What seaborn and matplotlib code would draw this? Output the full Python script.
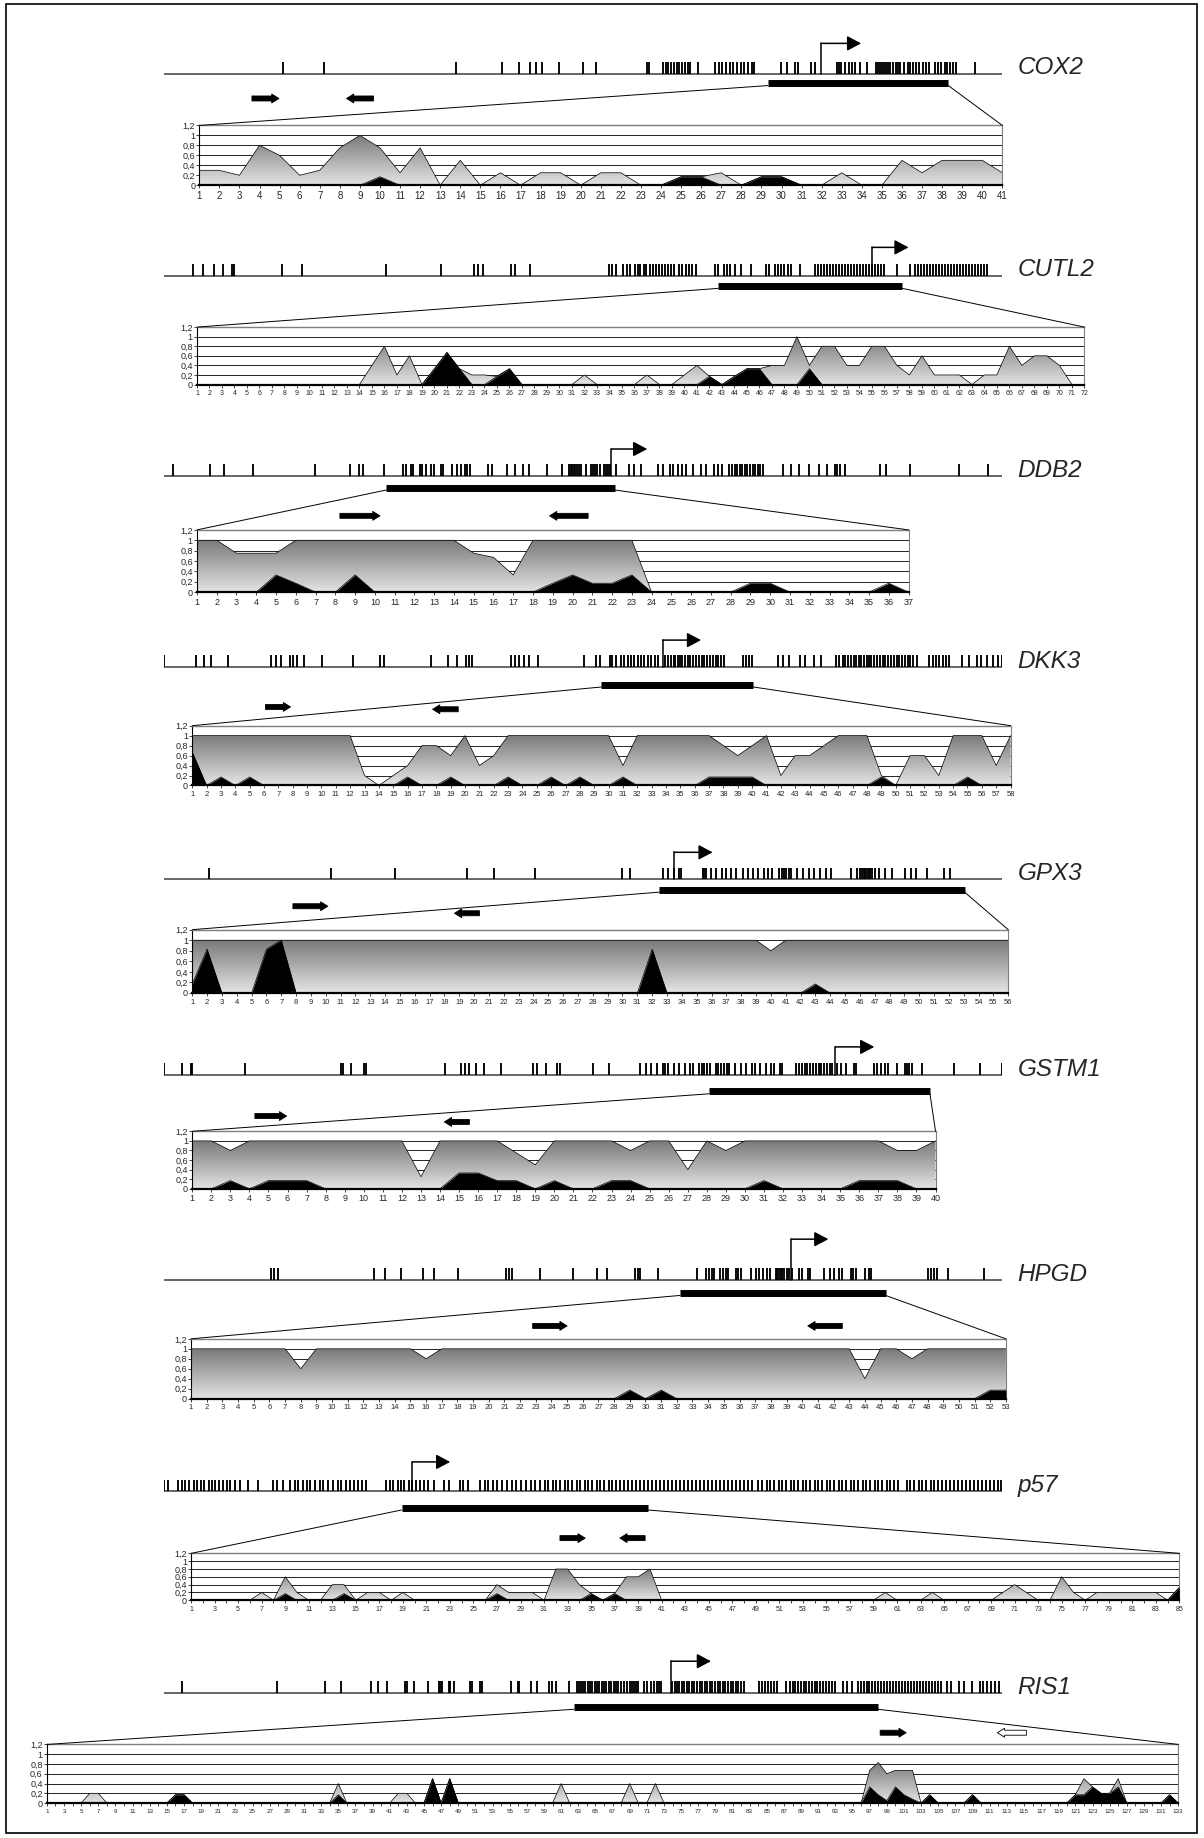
"""Mapas de islas CpG y perfiles de metilación por gen (COX2 ... RIS1)."""

import matplotlib

matplotlib.use("Agg")

import matplotlib.pyplot as plt
import numpy as np
import seaborn as sns
from matplotlib.colors import LinearSegmentedColormap
from matplotlib.patches import ConnectionPatch, Rectangle

sns.set_theme(style="white")
ESTRECHA = ["Liberation Sans Narrow", "Liberation Sans", "DejaVu Sans"]
plt.rcParams["font.family"] = ESTRECHA

W, H = 1204, 1838
S = 1204 / 1027  # medidas tomadas sobre la imagen reducida
GRIS = LinearSegmentedColormap.from_list("gris", ["#e4e4e4", "#7a7a7a"])

# ------------------------------------------------------------------ datos
COX2_GRIS = [0.3, 0.3, 0.2, 0.8, 0.6, 0.2, 0.3, 0.75, 1.0, 0.75,
             0.25, 0.75, 0, 0.5, 0, 0.25, 0, 0.25, 0.25, 0,
             0.25, 0.25, 0, 0, 0.17, 0.17, 0.25, 0, 0.17, 0.17,
             0, 0, 0.25, 0, 0, 0.5, 0.25, 0.5, 0.5, 0.5, 0.25]
COX2_NEGRO = [0, 0, 0, 0, 0, 0, 0, 0, 0, 0.17,
              0, 0, 0, 0, 0, 0, 0, 0, 0, 0,
              0, 0, 0, 0, 0.17, 0.17, 0, 0, 0.17, 0.17,
              0, 0, 0, 0, 0, 0, 0, 0, 0, 0, 0]
COX2_CPG = [218, 285, 500, 575, 603, 620, 630, 640, 668, 707, 728, 812, 815, 838,
            842, 846, 850, 855, 860, 864, 868, 873, 878, 882, 895, 922, 928, 934,
            940, 946, 952, 958, 964, 970, 976, 982, 986, 1030, 1040, 1053, 1058,
            1078, 1085, 1120, 1124, 1128, 1134, 1140, 1145, 1150, 1158, 1170,
            1185, 1188, 1191, 1194, 1197, 1200, 1203, 1207, 1212, 1216, 1220,
            1224, 1230, 1236, 1240, 1244, 1250, 1255, 1260, 1265, 1270, 1280,
            1285, 1290, 1296, 1300, 1305, 1310, 1315, 1345]
COX2_LINEA = (25, 1390)
COX2_BARRA = (1008, 1302)
COX2_TSS = (1095, 1160)
COX2_PRIMERS = [(168, 212), (366, 322)]

CUTL2_GRIS = [0, 0, 0, 0, 0, 0, 0, 0, 0, 0,
              0, 0, 0, 0, 0.4, 0.8, 0.2, 0.6, 0, 0.33,
              0.67, 0.33, 0.2, 0.2, 0.17, 0.33, 0, 0, 0, 0,
              0, 0.2, 0, 0, 0, 0, 0.2, 0, 0, 0.2,
              0.4, 0.17, 0, 0.17, 0.33, 0.33, 0.4, 0.4, 1.0, 0.4,
              0.8, 0.8, 0.4, 0.4, 0.8, 0.8, 0.4, 0.2, 0.6, 0.2,
              0.2, 0.2, 0, 0.2, 0.2, 0.8, 0.4, 0.6, 0.6, 0.4,
              0, 0]
CUTL2_NEGRO = [0, 0, 0, 0, 0, 0, 0, 0, 0, 0,
               0, 0, 0, 0, 0, 0, 0, 0, 0, 0.33,
               0.67, 0.33, 0, 0, 0.17, 0.33, 0, 0, 0, 0,
               0, 0, 0, 0, 0, 0, 0, 0, 0, 0,
               0, 0.17, 0, 0.17, 0.33, 0.33, 0, 0, 0, 0.33,
               0, 0, 0, 0, 0, 0, 0, 0, 0, 0,
               0, 0, 0, 0, 0, 0, 0, 0, 0, 0,
               0, 0]
CUTL2_CPG = [73, 90, 107, 122, 137, 140, 220, 253, 392, 483, 537, 543, 552, 598,
             605, 630, 760, 765, 772, 783, 790, 795, 803, 808, 812, 818, 822, 828,
             833, 838, 843, 848, 853, 858, 863, 868, 875, 880, 887, 893, 897, 903,
             935, 940, 950, 955, 960, 968, 978, 995, 1020, 1025, 1035, 1040, 1045,
             1050, 1055, 1060, 1075, 1100, 1105, 1110, 1115, 1120, 1125, 1130,
             1135, 1140, 1145, 1150, 1155, 1160, 1165, 1170, 1175, 1180, 1185,
             1190, 1195, 1200, 1205, 1210, 1215, 1236, 1258, 1265, 1270, 1275,
             1280, 1285, 1290, 1295, 1300, 1305, 1310, 1315, 1320, 1325, 1330,
             1335, 1340, 1345, 1350, 1355, 1360, 1365, 1370, 1375, 1380, 1385]
CUTL2_LINEA = (25, 1410)
CUTL2_BARRA = (940, 1245)
CUTL2_TSS = (1195, 1255)
CUTL2_PRIMERS = []

DDB2_GRIS = [1, 1, 0.75, 0.75, 0.75, 1, 1, 1, 1, 1,
             1, 1, 1, 1, 0.75, 0.67, 0.33, 1, 1, 1,
             1, 1, 1, 0, 0, 0, 0, 0, 0, 0,
             0, 0, 0, 0, 0, 0, 0]
DDB2_NEGRO = [0, 0, 0, 0, 0.33, 0.17, 0, 0, 0.33, 0,
              0, 0, 0, 0, 0, 0, 0, 0, 0.17, 0.33,
              0.17, 0.17, 0.33, 0, 0, 0, 0, 0, 0.17, 0.17,
              0, 0, 0, 0, 0, 0.17, 0]
DDB2_CPG = [52, 125, 152, 207, 328, 397, 415, 422, 463, 500, 505, 515, 520, 532,
            537, 545, 555, 560, 573, 578, 595, 605, 612, 620, 625, 630, 665, 672,
            702, 718, 734, 745, 780, 810, 823, 826, 829, 832, 835, 838, 842, 846,
            855, 865, 869, 874, 878, 884, 890, 895, 899, 903, 914, 940, 950, 962,
            995, 1005, 1020, 1025, 1035, 1042, 1050, 1065, 1080, 1090, 1104, 1112,
            1120, 1135, 1140, 1145, 1150, 1155, 1160, 1165, 1170, 1175, 1180,
            1185, 1190, 1195, 1200, 1240, 1255, 1270, 1290, 1310, 1325, 1340,
            1345, 1350, 1360, 1428, 1440, 1487, 1581, 1638]
DDB2_LINEA = (35, 1666)
DDB2_BARRA = (467, 912)
DDB2_TSS = (905, 975)
DDB2_PRIMERS = [(377, 455), (860, 785)]

DKK3_GRIS = [1, 1, 1, 1, 1, 1, 1, 1, 1, 1,
             1, 1, 0.2, 0, 0.2, 0.4, 0.8, 0.8, 0.6, 1,
             0.4, 0.6, 1, 1, 1, 1, 1, 1, 1, 1,
             0.4, 1, 1, 1, 1, 1, 1, 0.8, 0.6, 0.8,
             1, 0.2, 0.6, 0.6, 0.8, 1, 1, 1, 0.2, 0,
             0.6, 0.6, 0.2, 1, 1, 1, 0.4, 1]
DKK3_NEGRO = [0.67, 0, 0.17, 0, 0.17, 0, 0, 0, 0, 0,
              0, 0, 0, 0, 0, 0.17, 0, 0, 0.17, 0,
              0, 0, 0.17, 0, 0, 0.17, 0, 0.17, 0, 0,
              0.17, 0, 0, 0, 0, 0, 0.17, 0.17, 0.17, 0.17,
              0, 0, 0, 0, 0, 0, 0, 0, 0.17, 0,
              0, 0, 0, 0, 0.17, 0, 0, 0]
DKK3_CPG = [30, 88, 102, 115, 145, 222, 230, 240, 256, 262, 268, 281, 313, 369,
            418, 424, 510, 540, 556, 572, 578, 583, 652, 660, 668, 677, 686, 701,
            783, 805, 812, 830, 835, 842, 850, 856, 862, 868, 873, 880, 886, 892,
            898, 905, 912, 916, 930, 935, 940, 945, 948, 952, 956, 960, 965, 970,
            975, 980, 985, 990, 995, 1000, 1005, 1010, 1015, 1020, 1025, 1030,
            1035, 1070, 1075, 1080, 1085, 1133, 1142, 1152, 1172, 1180, 1197,
            1210, 1237, 1242, 1248, 1253, 1258, 1263, 1268, 1272, 1277, 1282,
            1287, 1292, 1296, 1300, 1305, 1310, 1315, 1320, 1325, 1330, 1335,
            1340, 1345, 1350, 1355, 1360, 1365, 1370, 1375, 1382, 1404, 1410,
            1416, 1422, 1428, 1434, 1440, 1462, 1476, 1490, 1497, 1508, 1518,
            1528, 1535]
DKK3_LINEA = (30, 1535)
DKK3_BARRA = (815, 1088)
DKK3_TSS = (925, 994)
DKK3_PRIMERS = [(212, 257), (558, 512)]

GPX3_GRIS = [1, 1, 1, 1, 1, 1, 1, 1, 1, 1,
             1, 1, 1, 1, 1, 1, 1, 1, 1, 1,
             1, 1, 1, 1, 1, 1, 1, 1, 1, 1,
             1, 1, 1, 1, 1, 1, 1, 1, 1, 0.8,
             1, 1, 1, 1, 1, 1, 1, 1, 1, 1,
             1, 1, 1, 1, 1, 1]
GPX3_NEGRO = [0.17, 0.83, 0, 0, 0, 0.83, 1.0, 0, 0, 0,
              0, 0, 0, 0, 0, 0, 0, 0, 0, 0,
              0, 0, 0, 0, 0, 0, 0, 0, 0, 0,
              0, 0.83, 0, 0, 0, 0, 0, 0, 0, 0,
              0, 0, 0.17, 0, 0, 0, 0, 0, 0, 0,
              0, 0, 0, 0, 0, 0]
GPX3_CPG = [110, 330, 445, 575, 625, 698, 855, 870, 928, 938, 948, 958, 962,
            1000, 1003, 1006, 1015, 1025, 1035, 1043, 1052, 1060, 1072, 1082,
            1090, 1100, 1110, 1118, 1125, 1137, 1143, 1146, 1150, 1155, 1160,
            1170, 1180, 1192, 1200, 1212, 1222, 1232, 1268, 1278, 1283, 1287,
            1290, 1293, 1296, 1299, 1302, 1305, 1310, 1318, 1328, 1342, 1365,
            1375, 1385, 1405, 1435, 1445]
GPX3_LINEA = (30, 1540)
GPX3_BARRA = (922, 1472)
GPX3_TSS = (948, 1018)
GPX3_PRIMERS = [(262, 325), (598, 553)]

GSTM1_GRIS = [1, 1, 0.8, 1, 1, 1, 1, 1, 1, 1,
              1, 1, 0.25, 1, 1, 1, 1, 0.75, 0.5, 1,
              1, 1, 1, 0.8, 1, 1, 0.4, 1, 0.8, 1,
              1, 1, 1, 1, 1, 1, 1, 0.8, 0.8, 1]
GSTM1_NEGRO = [0, 0, 0.17, 0, 0.17, 0.17, 0.17, 0, 0, 0,
               0, 0, 0, 0, 0.33, 0.33, 0.17, 0.17, 0, 0.17,
               0, 0, 0.17, 0.17, 0, 0, 0, 0, 0, 0,
               0.17, 0, 0, 0, 0, 0.17, 0.17, 0.17, 0, 0]
GSTM1_CPG = [30, 62, 78, 80, 175, 348, 352, 365, 388, 392, 535, 563, 570, 578,
             590, 605, 635, 693, 700, 715, 735, 740, 800, 828, 885, 895, 905, 915,
             925, 930, 935, 945, 955, 965, 975, 980, 990, 995, 1000, 1005, 1010,
             1020, 1025, 1030, 1035, 1040, 1045, 1055, 1065, 1075, 1085, 1090,
             1100, 1110, 1120, 1125, 1135, 1140, 1165, 1170, 1175, 1180, 1185,
             1190, 1195, 1200, 1205, 1210, 1215, 1220, 1225, 1230, 1238, 1245,
             1255, 1268, 1273, 1305, 1310, 1318, 1325, 1330, 1345, 1360, 1363,
             1367, 1372, 1390, 1448, 1495, 1535]
GSTM1_LINEA = (30, 1535)
GSTM1_BARRA = (1008, 1405)
GSTM1_TSS = (1235, 1305)
GSTM1_PRIMERS = [(193, 250), (578, 533)]

HPGD_GRIS = [1, 1, 1, 1, 1, 1, 1, 0.6, 1, 1,
             1, 1, 1, 1, 1, 0.8, 1, 1, 1, 1,
             1, 1, 1, 1, 1, 1, 1, 1, 1, 1,
             1, 1, 1, 1, 1, 1, 1, 1, 1, 1,
             1, 1, 1, 0.4, 1, 1, 0.8, 1, 1, 1,
             1, 1, 1]
HPGD_NEGRO = [0, 0, 0, 0, 0, 0, 0, 0, 0, 0,
              0, 0, 0, 0, 0, 0, 0, 0, 0, 0,
              0, 0, 0, 0, 0, 0, 0, 0, 0.17, 0,
              0.17, 0, 0, 0, 0, 0, 0, 0, 0, 0,
              0, 0, 0, 0, 0, 0, 0, 0, 0, 0,
              0, 0.17, 0.17]
HPGD_CPG = [222, 228, 235, 408, 428, 457, 495, 515, 558, 645, 650, 655, 706, 766,
            808, 826, 878, 882, 886, 918, 988, 1005, 1010, 1015, 1020, 1030, 1035,
            1040, 1045, 1058, 1062, 1068, 1085, 1095, 1100, 1108, 1115, 1120,
            1130, 1133, 1136, 1139, 1142, 1145, 1150, 1155, 1160, 1172, 1178,
            1188, 1192, 1218, 1228, 1235, 1245, 1250, 1265, 1270, 1275, 1290,
            1298, 1302, 1405, 1410, 1415, 1420, 1440, 1505]
HPGD_LINEA = (30, 1538)
HPGD_BARRA = (958, 1328)
HPGD_TSS = (1158, 1225)
HPGD_PRIMERS = [(693, 755), (1250, 1188)]

P57_GRIS = [0, 0, 0, 0, 0, 0, 0.2, 0, 0.6, 0.2,
            0, 0, 0.4, 0.4, 0, 0.2, 0.2, 0, 0.2, 0,
            0, 0, 0, 0, 0, 0, 0.4, 0.2, 0.2, 0.2,
            0, 0.8, 0.8, 0.4, 0.17, 0, 0.17, 0.6, 0.6, 0.8,
            0, 0, 0, 0, 0, 0, 0, 0, 0, 0,
            0, 0, 0, 0, 0, 0, 0, 0, 0, 0.2,
            0, 0, 0, 0.2, 0, 0, 0, 0, 0, 0.2,
            0.4, 0.2, 0, 0, 0.6, 0.2, 0, 0.2, 0.2, 0.2,
            0.2, 0.2, 0.2, 0, 0.33]
P57_NEGRO = [0, 0, 0, 0, 0, 0, 0, 0, 0.17, 0,
             0, 0, 0, 0.17, 0, 0, 0, 0, 0, 0,
             0, 0, 0, 0, 0, 0, 0.17, 0, 0, 0,
             0, 0, 0, 0, 0.17, 0, 0.17, 0, 0, 0,
             0, 0, 0, 0, 0, 0, 0, 0, 0, 0,
             0, 0, 0, 0, 0, 0, 0, 0, 0, 0,
             0, 0, 0, 0, 0, 0, 0, 0, 0, 0,
             0, 0, 0, 0, 0, 0, 0, 0, 0, 0,
             0, 0, 0, 0, 0.33]
P57_CPG = [25, 31, 46, 52, 57, 63, 70, 74, 80, 85, 92, 97, 102, 108, 113, 119,
           124, 131, 139, 151, 166, 188, 195, 203, 214, 221, 226, 233, 240, 245,
           252, 259, 264, 272, 279, 286, 291, 298, 305, 310, 316, 323, 328, 358,
           364, 369, 376, 381, 386, 393, 398, 404, 410, 416, 422, 430, 446, 453,
           470, 475, 482, 500, 507, 512, 520, 526, 533, 541, 548, 554, 562, 569,
           577, 583, 590, 597, 602, 609, 614, 620, 627, 632, 638, 645, 650, 657,
           662, 668, 675, 680, 686, 693, 698, 704, 711, 716, 722, 729, 734, 740,
           747, 752, 758, 765, 770, 776, 783, 788, 794, 801, 806, 812, 819, 824,
           830, 837, 842, 848, 855, 860, 866, 873, 878, 884, 891, 896, 902, 909,
           918, 924, 931, 936, 942, 949, 954, 960, 967, 972, 978, 985, 990, 996,
           1003, 1008, 1014, 1021, 1026, 1032, 1039, 1044, 1050, 1057, 1062,
           1068, 1075, 1080, 1086, 1093, 1098, 1104, 1111, 1116, 1122, 1128,
           1141, 1146, 1152, 1159, 1164, 1170, 1177, 1182, 1188, 1195, 1200,
           1206, 1213, 1218, 1224, 1231, 1236, 1242, 1249, 1254, 1260, 1267,
           1272, 1278, 1283]
P57_LINEA = (25, 1285)
P57_BARRA = (382, 752)
P57_TSS = (398, 455)
P57_PRIMERS = [(620, 658), (748, 710)]

RIS1_GRIS = [0, 0, 0, 0, 0, 0.2, 0.2, 0, 0, 0,
             0, 0, 0, 0, 0, 0.17, 0.17, 0, 0, 0,
             0, 0, 0, 0, 0, 0, 0, 0, 0, 0,
             0, 0, 0, 0, 0.4, 0, 0, 0, 0, 0,
             0, 0.2, 0.2, 0, 0, 0.5, 0, 0.5, 0, 0,
             0, 0, 0, 0, 0, 0, 0, 0, 0, 0,
             0.4, 0, 0, 0, 0, 0, 0, 0, 0.4, 0,
             0, 0.4, 0, 0, 0, 0, 0, 0, 0, 0,
             0, 0, 0, 0, 0, 0, 0, 0, 0, 0,
             0, 0, 0, 0, 0, 0, 0.67, 0.83, 0.6, 0.67,
             0.67, 0.67, 0, 0.17, 0, 0, 0, 0, 0.17, 0,
             0, 0, 0, 0, 0, 0, 0, 0, 0, 0,
             0.17, 0.5, 0.33, 0.2, 0.2, 0.5, 0, 0, 0, 0,
             0, 0.17, 0]
RIS1_NEGRO = [0, 0, 0, 0, 0, 0, 0, 0, 0, 0,
              0, 0, 0, 0, 0, 0.17, 0.17, 0, 0, 0,
              0, 0, 0, 0, 0, 0, 0, 0, 0, 0,
              0, 0, 0, 0, 0.17, 0, 0, 0, 0, 0,
              0, 0, 0, 0, 0, 0.5, 0, 0.5, 0, 0,
              0, 0, 0, 0, 0, 0, 0, 0, 0, 0,
              0, 0, 0, 0, 0, 0, 0, 0, 0, 0,
              0, 0, 0, 0, 0, 0, 0, 0, 0, 0,
              0, 0, 0, 0, 0, 0, 0, 0, 0, 0,
              0, 0, 0, 0, 0, 0, 0.33, 0.17, 0.05, 0.33,
              0.17, 0.08, 0, 0.17, 0, 0, 0, 0, 0.17, 0,
              0, 0, 0, 0, 0, 0, 0, 0, 0, 0,
              0.17, 0.17, 0.33, 0.2, 0.2, 0.33, 0, 0, 0, 0,
              0, 0.17, 0]
RIS1_CPG = [183, 278, 326, 342, 372, 379, 388, 406, 408, 415, 428, 439, 440,
            442, 449, 450, 454, 470, 472, 480, 482, 511, 518, 519, 531, 537, 549,
            552, 556, 569, 577, 579, 581, 583, 585, 588, 590, 592, 595, 597, 599,
            602, 604, 606, 609, 611, 614, 616, 618, 621, 624, 627, 630, 632, 634,
            636, 638, 644, 647, 651, 654, 657, 659, 661, 672, 675, 677, 679, 682,
            684, 687, 689, 692, 694, 697, 700, 702, 705, 707, 710, 712, 715, 718,
            720, 723, 725, 728, 731, 733, 736, 738, 741, 744, 759, 762, 765, 768,
            771, 774, 777, 786, 790, 793, 795, 798, 801, 804, 806, 809, 812, 815,
            817, 820, 823, 826, 829, 832, 835, 843, 847, 852, 858, 861, 864, 867,
            869, 872, 875, 878, 881, 884, 887, 890, 893, 896, 899, 902, 905, 908,
            911, 914, 917, 920, 923, 926, 929, 932, 935, 938, 941, 947, 951, 959,
            964, 972, 980, 983, 987, 991, 995, 999]
RIS1_LINEA = (165, 1002)
RIS1_BARRA = (574, 878)
RIS1_TSS = (671, 711)
RIS1_PRIMERS = [(880, 906), (1026, 997)]

GENES = [
    ("COX2", COX2_GRIS, COX2_NEGRO, COX2_CPG, COX2_LINEA, COX2_BARRA, COX2_TSS, COX2_PRIMERS),
    ("CUTL2", CUTL2_GRIS, CUTL2_NEGRO, CUTL2_CPG, CUTL2_LINEA, CUTL2_BARRA, CUTL2_TSS, CUTL2_PRIMERS),
    ("DDB2", DDB2_GRIS, DDB2_NEGRO, DDB2_CPG, DDB2_LINEA, DDB2_BARRA, DDB2_TSS, DDB2_PRIMERS),
    ("DKK3", DKK3_GRIS, DKK3_NEGRO, DKK3_CPG, DKK3_LINEA, DKK3_BARRA, DKK3_TSS, DKK3_PRIMERS),
    ("GPX3", GPX3_GRIS, GPX3_NEGRO, GPX3_CPG, GPX3_LINEA, GPX3_BARRA, GPX3_TSS, GPX3_PRIMERS),
    ("GSTM1", GSTM1_GRIS, GSTM1_NEGRO, GSTM1_CPG, GSTM1_LINEA, GSTM1_BARRA, GSTM1_TSS, GSTM1_PRIMERS),
    ("HPGD", HPGD_GRIS, HPGD_NEGRO, HPGD_CPG, HPGD_LINEA, HPGD_BARRA, HPGD_TSS, HPGD_PRIMERS),
    ("p57", P57_GRIS, P57_NEGRO, P57_CPG, P57_LINEA, P57_BARRA, P57_TSS, P57_PRIMERS),
    ("RIS1", RIS1_GRIS, RIS1_NEGRO, RIS1_CPG, RIS1_LINEA, RIS1_BARRA, RIS1_TSS, RIS1_PRIMERS),
]

# ------------------------------------------------ disposición (px reducidos)
# tss_y, linea_y, barra_y, primer_y, (izq, der, arriba, abajo), tamaño etiquetas, paso
DISPOSICION = {
    "COX2": (37, 63, 71, (84, 84), (170, 855, 107, 158), 7, 1),
    "CUTL2": (211, 235, 244, (), (168, 925, 279, 328), 5, 1),
    "DDB2": (383, 406, 416, (440, 440), (168, 775, 452, 505), 6.5, 1),
    "DKK3": (546, 569, 584, (603, 605), (164, 862, 619, 670), 5.5, 1),
    "GPX3": (727, 750, 759, (773, 779), (164, 860, 793, 847), 5.5, 1),
    "GSTM1": (893, 917, 931, (952, 957), (164, 798, 965, 1014), 6.5, 1),
    "HPGD": (1057, 1092, 1103, (1131, 1131), (163, 858, 1142, 1193), 5.5, 1),
    "p57": (1247, 1272, 1286, (1312, 1312), (163, 1006, 1325, 1365), 5, 2),
    "RIS1": (1417, 1444, 1456, (1478, 1478), (40, 1005, 1488, 1538), 4.5, 2),
}


def caja(izq, der, arr, aba):
    return [izq * S / W, 1 - aba * S / H, (der - izq) * S / W, (aba - arr) * S / H]


def mapa(fig, nombre, cpg, linea, barra, tss, primers):
    tss_y, lin_y, bar_y, prim_y, _, _, _ = DISPOSICION[nombre]
    arriba = tss_y - 10
    abajo = max((bar_y,) + tuple(prim_y)) + 8
    ax = fig.add_axes(caja(140, 855, arriba, abajo))
    ax.set_xlim(*linea)
    ax.set_ylim(abajo, arriba)
    ax.axis("off")
    ax.hlines(lin_y, linea[0], linea[1], color="#5a5a5a", lw=1.3)
    ax.vlines(cpg, lin_y - 10, lin_y, color="black", lw=1.35)
    ax.hlines(bar_y, barra[0], barra[1], color="black", lw=5, capstyle="butt")
    ax.plot([tss[0], tss[0]], [lin_y, tss_y], color="black", lw=1.1)
    ax.annotate("", xy=(tss[1], tss_y), xytext=(tss[0], tss_y), annotation_clip=False,
                arrowprops=dict(arrowstyle="-|>,head_length=0.85,head_width=0.45",
                                mutation_scale=10, lw=1.1, color="black",
                                shrinkA=0, shrinkB=0))
    for i, (ini, fin) in enumerate(primers):
        relleno = "white" if (nombre == "RIS1" and i == 1) else "black"
        ax.annotate("", xy=(fin, prim_y[i]), xytext=(ini, prim_y[i]), annotation_clip=False,
                    arrowprops=dict(arrowstyle="simple,head_length=0.65,head_width=0.8,tail_width=0.45",
                                    mutation_scale=8, fc=relleno, ec="black", lw=0.6,
                                    shrinkA=0, shrinkB=0))
    fig.text(868 * S / W, 1 - (lin_y - 5) * S / H, nombre, fontsize=17.5, style="italic",
             family=["Liberation Sans", "DejaVu Sans"], ha="left", va="center")
    return ax


def grafico(fig, nombre, gris, negro):
    _, _, _, _, (izq, der, arr, aba), fs, paso = DISPOSICION[nombre]
    ax = fig.add_axes(caja(izq, der, arr, aba))
    gris = np.asarray(gris, dtype=float)
    negro = np.asarray(negro, dtype=float)
    n = len(gris)
    x = np.arange(1, n + 1)
    for v in (0.2, 0.4, 0.6, 0.8, 1.0):
        ax.axhline(v, color="black", lw=0.6, zorder=0.5)
    forma = ax.fill_between(x, gris, 0, facecolor="none", edgecolor="none")
    degradado = np.linspace(0, 1, 256).reshape(-1, 1)
    im = ax.imshow(degradado, extent=(1, n, 0, gris.max()), origin="lower", aspect="auto",
                   cmap=GRIS, interpolation="bilinear", zorder=1)
    im.set_clip_path(forma.get_paths()[0], transform=ax.transData)
    sns.lineplot(x=x, y=gris, ax=ax, color="black", linewidth=0.5, estimator=None,
                 sort=False, legend=False, zorder=2)
    ax.fill_between(x, negro, 0, color="black", lw=0, zorder=3)
    sns.lineplot(x=x, y=negro, ax=ax, color="black", linewidth=0.5, estimator=None,
                 sort=False, legend=False, zorder=3)
    ax.set_xlim(1, n)
    ax.set_ylim(0, 1.2)
    ax.set_yticks([0, 0.2, 0.4, 0.6, 0.8, 1.0, 1.2],
                  ["0", "0,2", "0,4", "0,6", "0,8", "1", "1,2"])
    ax.set_xticks(x, [str(i) if (paso == 1 or i % 2 == 1) else "" for i in x])
    ax.tick_params(axis="y", left=True, length=2, width=0.6, labelsize=6.5, pad=1)
    ax.tick_params(axis="x", bottom=True, length=2, width=0.6, labelsize=fs, pad=2)
    ax.set_xlabel("")
    ax.set_ylabel("")
    ax.spines["left"].set(color="black", lw=0.8)
    ax.spines["bottom"].set(color="black", lw=1.6)
    ax.spines["top"].set(color="#7f7f7f", lw=1.0)
    ax.spines["right"].set(color="#7f7f7f", lw=0.8)
    return ax


fig = plt.figure(figsize=(W / 100, H / 100), dpi=100)
for nombre, gris, negro, cpg, linea, barra, tss, primers in GENES:
    ax_mapa = mapa(fig, nombre, cpg, linea, barra, tss, primers)
    ax_graf = grafico(fig, nombre, gris, negro)
    bar_y = DISPOSICION[nombre][2] + 2
    for extremo, esquina in ((barra[0], (0, 1)), (barra[1], (1, 1))):
        fig.add_artist(ConnectionPatch(xyA=(extremo, bar_y), coordsA=ax_mapa.transData,
                                       xyB=esquina, coordsB=ax_graf.transAxes,
                                       color="black", lw=0.7))

fig.add_artist(Rectangle((6 / W, 1 - 1833 / H), 1191 / W, 1829 / H, transform=fig.transFigure,
                         fill=False, ec="black", lw=1.2))
fig.savefig("out.png", dpi=100)
